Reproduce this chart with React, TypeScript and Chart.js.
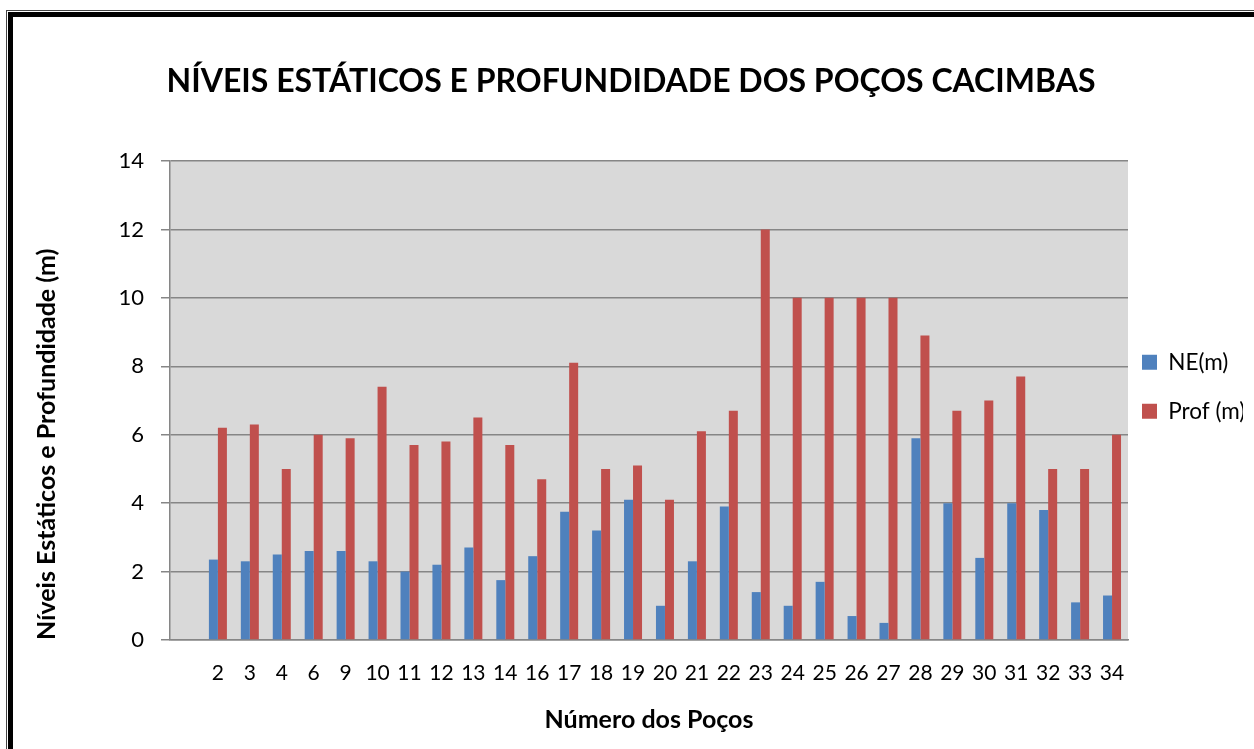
import React, { useEffect, useRef } from "react";
import { Chart, registerables } from "chart.js";

Chart.register(...registerables);

const chartTitle = "NÍVEIS ESTÁTICOS E PROFUNDIDADE DOS POÇOS CACIMBAS";
const xTitle = "Número dos Poços";
const yTitle = "Níveis Estáticos e Profundidade (m)";

// first category is an empty slot in the original chart
const categories = ["", "2", "3", "4", "6", "9", "10", "11", "12", "13", "14", "16", "17", "18", "19", "20", "21", "22", "23", "24", "25", "26", "27", "28", "29", "30", "31", "32", "33", "34"];
const neValues = [null, 2.35, 2.3, 2.5, 2.6, 2.6, 2.3, 2.0, 2.2, 2.7, 1.75, 2.45, 3.75, 3.2, 4.1, 1.0, 2.3, 3.9, 1.4, 1.0, 1.7, 0.7, 0.5, 5.9, 4.0, 2.4, 4.0, 3.8, 1.1, 1.3];
const profValues = [null, 6.2, 6.3, 5.0, 6.0, 5.9, 7.4, 5.7, 5.8, 6.5, 5.7, 4.7, 8.1, 5.0, 5.1, 4.1, 6.1, 6.7, 12.0, 10.0, 10.0, 10.0, 10.0, 8.9, 6.7, 7.0, 7.7, 5.0, 5.0, 6.0];
const seriesNames = ["NE(m)", "Prof (m)"];
const yTicks = [0, 2, 4, 6, 8, 10, 12, 14];

const FONT = "Lato, 'DejaVu Sans', sans-serif";

const plotBg = {
  id: "plotBg",
  beforeDraw(chart: any) {
    const { ctx, chartArea } = chart;
    ctx.save();
    ctx.fillStyle = "#d9d9d9";
    ctx.fillRect(chartArea.left, chartArea.top, chartArea.right - chartArea.left, chartArea.bottom - chartArea.top);
    ctx.restore();
  },
};

export default function App() {
  const ref = useRef<HTMLCanvasElement | null>(null);

  useEffect(() => {
    if (!ref.current) return;
    const chart = new Chart(ref.current, {
      type: "bar",
      data: {
        labels: categories,
        datasets: [
          {
            label: seriesNames[0],
            data: neValues as any,
            backgroundColor: "#4f81bd",
            borderWidth: 0,
            categoryPercentage: 0.5637,
            barPercentage: 1,
          },
          {
            label: seriesNames[1],
            data: profValues as any,
            backgroundColor: "#c0504d",
            borderWidth: 0,
            categoryPercentage: 0.5637,
            barPercentage: 1,
          },
        ],
      },
      options: {
        responsive: false,
        animation: false,
        devicePixelRatio: 1,
        layout: { padding: { top: 37, right: 30, left: 0, bottom: 0 } },
        plugins: {
          title: {
            display: true,
            text: chartTitle,
            color: "#000",
            font: { family: FONT, size: 32, weight: "bold", lineHeight: 1.2 },
            padding: { top: 25.8, bottom: 59.8 },
          },
          legend: {
            position: "right",
            maxWidth: 115,
            labels: {
              boxWidth: 15,
              boxHeight: 15,
              padding: 14,
              color: "#000",
              font: { family: FONT, size: 22.5, lineHeight: 35 / 22.5 },
              generateLabels: (c: any) =>
                (Chart.defaults.plugins.legend.labels.generateLabels as any)(c).map((l: any) => ({ ...l, text: [l.text] })),
            },
          },
          tooltip: { enabled: false },
        },
        scales: {
          x: {
            grid: { display: false, drawTicks: false },
            border: { display: true, color: "#868686", width: 1.5 },
            ticks: { color: "#000", font: { family: FONT, size: 21 }, padding: 21, autoSkip: false, maxRotation: 0 },
            title: {
              display: true,
              text: xTitle,
              color: "#000",
              font: { family: FONT, size: 25, weight: "bold", lineHeight: 1.2 },
              padding: { top: 0, bottom: 14 },
            },
            afterFit: (s: any) => {
              s.height = 109;
            },
          },
          y: {
            min: yTicks[0],
            max: yTicks[yTicks.length - 1],
            ticks: { stepSize: yTicks[1] - yTicks[0], color: "#000", font: { family: FONT, size: 22 }, padding: 17 },
            grid: { color: "#868686", lineWidth: 1.5, tickLength: 9 },
            border: { color: "#868686", width: 1.5 },
            title: {
              display: true,
              align: "start",
              text: yTitle,
              color: "#000",
              font: { family: FONT, size: 25, weight: "bold", lineHeight: 1.2 },
              padding: { top: 13, bottom: 0 },
            },
            afterFit: (s: any) => {
              s.width = 151;
            },
          },
        },
      } as any,
      plugins: [plotBg],
    });
    return () => chart.destroy();
  }, []);

  return (
    <div style={{ position: "fixed", left: 0, top: 0, width: 1254, height: 749, overflow: "hidden", background: "#fff" }}>
      <div style={{ position: "absolute", left: 6, top: 10, width: 1400, height: 900, borderTop: "1px solid #444", borderLeft: "1px solid #444" }}>
        <div style={{ position: "absolute", left: 1, top: 1, width: 1390, height: 890, borderTop: "5px solid #000", borderLeft: "5px solid #000" }} />
      </div>
      <canvas ref={ref} width={1254} height={749} style={{ position: "absolute", left: 19, top: 0, width: 1254, height: 749 }} />
    </div>
  );
}
